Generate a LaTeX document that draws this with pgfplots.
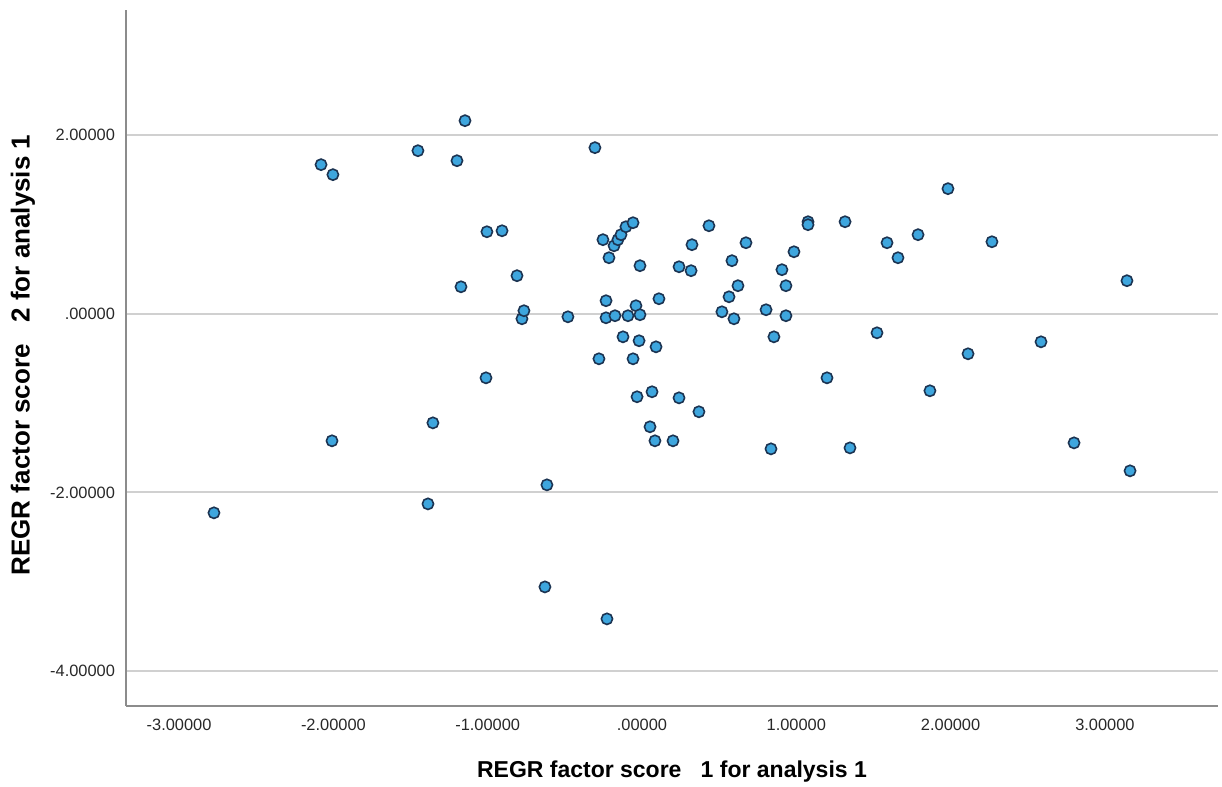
\documentclass[border=0pt]{standalone}
\usepackage{fontspec}
\setmainfont{Liberation Sans}
\usepackage{pgfplots}
\pgfplotsset{compat=1.18}
\definecolor{ptfill}{RGB}{62,166,222}
\definecolor{ptedge}{RGB}{28,52,82}
\definecolor{gridc}{RGB}{208,208,208}
\definecolor{axisc}{RGB}{140,140,140}
\definecolor{tickc}{RGB}{40,40,40}
\begin{document}
\begin{tikzpicture}
\useasboundingbox (-63pt,-40.5pt) rectangle (548pt,353pt);
\begin{axis}[
  at={(0,0)}, anchor=south west,
  scale only axis,
  width=546pt, height=348pt,
  xmin=-3.344, xmax=3.733,
  ymin=-4.39, ymax=3.40,
  axis x line*=bottom, axis y line*=left,
  axis line style={axisc, line width=0.75pt, -},
  xtick={-3,-2,-1,0,1,2,3},
  xticklabels={-3.00000,-2.00000,-1.00000,.00000,1.00000,2.00000,3.00000},
  ytick={-4,-2,0,2},
  yticklabels={-4.00000,-2.00000,.00000,2.00000},
  major tick length=0pt,
  ymajorgrids,
  grid style={gridc, line width=1pt},
  tick label style={font=\fontsize{8.2}{10}\selectfont, text=tickc},
  xticklabel style={yshift=-3pt},
  yticklabel style={xshift=-2pt},
  every axis x label/.style={at={(axis description cs:0.5,0)}, anchor=center, yshift=-33pt, font=\fontsize{11.5}{13}\selectfont\bfseries},
  every axis y label/.style={at={(axis description cs:0,0.5)}, anchor=center, rotate=90, yshift=51.5pt, xshift=1.5pt, font=\fontsize{13}{15}\selectfont\bfseries},
  xlabel={REGR factor score\ \ \ 1 for analysis 1},
  ylabel={REGR factor score\ \ \ 2 for analysis 1},
]
\addplot[only marks, mark=*, mark size=2.8pt, mark options={fill=ptfill, draw=ptedge, line width=0.8pt}]
coordinates {
(-2.774,-2.228) (-2.080,1.669) (-2.003,1.557) (-2.009,-1.422)
(-1.452,1.825) (-1.199,1.713) (-1.147,2.161) (-1.387,-2.128)
(-1.355,-1.221) (-1.173,0.302) (-1.005,0.918) (-0.907,0.929)
(-1.011,-0.717) (-0.810,0.426) (-0.778,-0.056) (-0.765,0.034)
(-0.480,-0.034) (-0.616,-1.915) (-0.629,-3.057) (-0.305,1.859)
(-0.227,-3.415)
(-0.253,0.829) (-0.214,0.627) (-0.181,0.761) (-0.156,0.829)
(-0.136,0.885) (-0.104,0.974) (-0.058,1.019) (-0.013,0.538)
(-0.233,0.146) (-0.233,-0.045) (-0.175,-0.022) (-0.091,-0.022)
(-0.039,0.090) (-0.013,-0.011) (0.110,0.168) (-0.123,-0.258)
(-0.019,-0.302) (0.091,-0.370) (-0.279,-0.504) (-0.058,-0.504)
(0.240,0.526) (0.318,0.482) (0.324,0.773) (0.434,0.985)
(0.583,0.594) (0.674,0.795) (0.622,0.314) (0.564,0.190)
(0.518,0.022) (0.596,-0.056)
(-0.032,-0.929) (0.065,-0.873) (0.240,-0.941) (0.369,-1.097)
(0.052,-1.265) (0.084,-1.422) (0.201,-1.422) (0.836,-1.512)
(1.076,1.030) (1.076,0.997) (1.316,1.030) (0.985,0.694)
(0.907,0.493) (0.933,0.314) (0.804,0.045) (0.933,-0.022)
(0.855,-0.258) (1.523,-0.213) (1.588,0.795) (1.659,0.627)
(1.789,0.885) (2.268,0.806) (2.113,-0.448) (1.983,1.400)
(3.143,0.370) (2.586,-0.314) (1.199,-0.717) (1.866,-0.862)
(1.348,-1.501) (2.800,-1.445) (3.163,-1.758)
};
\end{axis}
\end{tikzpicture}
\end{document}
